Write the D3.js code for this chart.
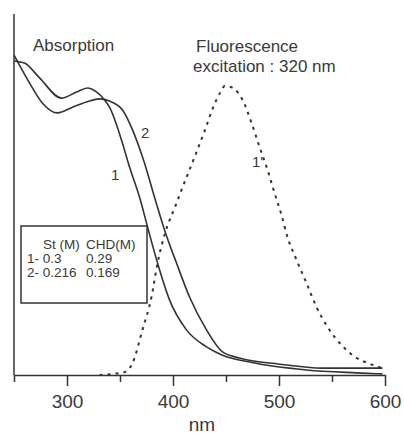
<!DOCTYPE html>
<html>
<head>
<meta charset="utf-8">
<script src="https://cdnjs.cloudflare.com/ajax/libs/d3/7.8.5/d3.min.js"></script>
<style>
  body { margin: 0; background: #fff; }
  svg text { font-family: "Liberation Sans", Arial, sans-serif; fill: #3a3a3a; }
</style>
</head>
<body>
<div id="chart"></div>
<script>
// absorption curve 1 (St 0.3 / CHD 0.29)
var wl1 = [250, 259.9, 274.1, 294.8, 309, 319.3, 327.8, 335.4, 340.1, 351.4, 359, 368.4, 376, 385.4, 396.7, 412.7, 431.6, 446.7, 472.2, 525.9, 573.1, 597.6];
var abs1 = [0.87, 0.864, 0.823, 0.767, 0.784, 0.795, 0.784, 0.762, 0.742, 0.651, 0.576, 0.493, 0.41, 0.31, 0.208, 0.125, 0.078, 0.055, 0.036, 0.014, 0.006, 0.003];

// absorption curve 2 (St 0.216 / CHD 0.169)
var wl2 = [250, 264.6, 276.9, 291, 305.2, 318.4, 330.7, 340.1, 352.4, 361.8, 373.1, 382.5, 392, 403.3, 415.6, 431.6, 446.7, 462.7, 500.5, 541, 597.6];
var abs2 = [0.886, 0.809, 0.753, 0.726, 0.742, 0.756, 0.765, 0.759, 0.734, 0.679, 0.587, 0.493, 0.402, 0.31, 0.216, 0.125, 0.064, 0.047, 0.03, 0.019, 0.019];

// fluorescence 1' (excitation 320 nm)
var wlF = [330.7, 342.9, 354.2, 361.8, 371.2, 379.7, 385.4, 392.5, 401.9, 411.3, 420.8, 430.2, 437.7, 444.3, 449.1, 456.6, 465.6, 474.1, 481.6, 489.2, 495.8, 502.4, 508, 516.5, 525.9, 535.4, 545.8, 559, 569.3, 588.2, 597.6];
var fl = [0, 0.003, 0.008, 0.033, 0.125, 0.216, 0.31, 0.393, 0.465, 0.537, 0.607, 0.679, 0.74, 0.781, 0.801, 0.795, 0.762, 0.698, 0.632, 0.568, 0.504, 0.443, 0.382, 0.319, 0.255, 0.188, 0.133, 0.083, 0.055, 0.028, 0.019];

var majorTicks = [300, 400, 500, 600];
var minorTicks = [250, 350, 450, 550];

var legendHead = ["St (M)", "CHD(M)"];
var legendRows = [["1- 0.3", "0.29"], ["2- 0.216", "0.169"]];

var width = 404, height = 434;

var svg = d3.select("#chart").append("svg")
	.attr("width", width)
	.attr("height", height);

var x = d3.scaleLinear().domain([250, 600]).range([14, 385]);
var y = d3.scaleLinear().domain([0, 1]).range([375, 14]);

var ink = "#333";

// y axis, plain line with no ticks
svg.append("line")
	.attr("x1", x(250)).attr("x2", x(250))
	.attr("y1", y(1)).attr("y2", y(0))
	.style("stroke", ink).style("stroke-width", 1.5);

// x axis
var xAxis = svg.append("g")
	.attr("transform", "translate(0," + y(0) + ")")
	.call(d3.axisBottom(x).tickValues(majorTicks).tickSize(11).tickSizeOuter(0).tickFormat(d3.format("d")));
xAxis.select(".domain").style("stroke", ink).style("stroke-width", 1.5);
xAxis.selectAll(".tick line").style("stroke", ink).style("stroke-width", 1.5);
xAxis.selectAll(".tick text")
	.attr("y", 20)
	.attr("dy", "0.71em")
	.style("font-size", "19px")
	.style("font-family", "Liberation Sans, Arial, sans-serif")
	.style("fill", "#3a3a3a");

var xMinor = svg.append("g")
	.attr("transform", "translate(0," + y(0) + ")")
	.call(d3.axisBottom(x).tickValues(minorTicks).tickSize(7).tickSizeOuter(0).tickFormat(""));
xMinor.select(".domain").remove();
xMinor.selectAll(".tick line").style("stroke", ink).style("stroke-width", 1.5);

svg.append("text")
	.attr("x", 202).attr("y", 431)
	.style("font-size", "19px")
	.style("text-anchor", "middle")
	.text("nm");

var line = d3.line()
	.x(function(d) { return x(d[0]); })
	.y(function(d) { return y(d[1]); })
	.curve(d3.curveMonotoneX);

function pairs(a, b) { return a.map(function(v, i) { return [v, b[i]]; }); }

svg.append("path")
	.attr("d", line(pairs(wl1, abs1)))
	.style("fill", "none").style("stroke", ink).style("stroke-width", 1.6);

svg.append("path")
	.attr("d", line(pairs(wl2, abs2)))
	.style("fill", "none").style("stroke", ink).style("stroke-width", 1.6);

svg.append("path")
	.attr("d", line(pairs(wlF, fl)))
	.style("fill", "none").style("stroke", ink).style("stroke-width", 2)
	.style("stroke-dasharray", "3,5");

// curve labels
svg.append("text").attr("x", 141).attr("y", 138).style("font-size", "15px").text("2");
svg.append("text").attr("x", 111).attr("y", 180).style("font-size", "15px").text("1");
svg.append("text").attr("x", 252).attr("y", 167).style("font-size", "15px").text("1'");

// titles
svg.append("text").attr("x", 33).attr("y", 51).style("font-size", "17px").text("Absorption");
svg.append("text").attr("x", 196).attr("y", 52).style("font-size", "17px").text("Fluorescence");
svg.append("text").attr("x", 193).attr("y", 72).style("font-size", "17px").text("excitation : 320 nm");

// legend box
var lg = svg.append("g");
lg.append("rect")
	.attr("x", 21).attr("y", 226).attr("width", 126).attr("height", 77)
	.style("fill", "#fff").style("stroke", ink).style("stroke-width", 1.5);
lg.append("text").attr("x", 43).attr("y", 249).style("font-size", "13.5px").text(legendHead[0]);
lg.append("text").attr("x", 86).attr("y", 249).style("font-size", "13.5px").text(legendHead[1]);
legendRows.forEach(function(r, i) {
	lg.append("text").attr("x", 27).attr("y", 263 + i * 14).style("font-size", "13.5px").text(r[0]);
	lg.append("text").attr("x", 86).attr("y", 263 + i * 14).style("font-size", "13.5px").text(r[1]);
});
</script>
</body>
</html>
